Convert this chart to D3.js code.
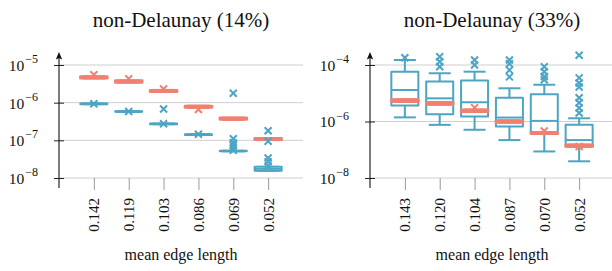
<!DOCTYPE html>
<html>
<head>
<meta charset="utf-8">
<script src="https://cdn.jsdelivr.net/npm/d3@7"></script>
<style>
  html, body { margin: 0; padding: 0; background: #fff; }
  svg text { font-family: "Liberation Serif", "Times New Roman", "DejaVu Serif", serif !important; }
</style>
</head>
<body>
<svg id="chart" width="612" height="271"></svg>
<script>
// categories (mean edge length)
const leftCats = ["0.142", "0.119", "0.103", "0.086", "0.069", "0.052"];
const rightCats = ["0.143", "0.120", "0.104", "0.087", "0.070", "0.052"];

const leftTicks = [1e-8, 1e-7, 1e-6, 1e-5];
const rightTicks = [1e-8, 1e-6, 1e-4];

// left panel, red series
const leftRedLo = [4.45e-6, 3.45e-6, 1.95e-6, 7.4e-7, 3.55e-7, 1.03e-7];
const leftRedQ1 = [4.45e-6, 3.45e-6, 1.95e-6, 7.4e-7, 3.55e-7, 1.03e-7];
const leftRedMed = [4.7e-6, 3.65e-6, 2.05e-6, 7.8e-7, 3.75e-7, 1.08e-7];
const leftRedQ3 = [4.95e-6, 3.85e-6, 2.15e-6, 8.2e-7, 3.95e-7, 1.13e-7];
const leftRedHi = [4.95e-6, 3.85e-6, 2.15e-6, 8.2e-7, 3.95e-7, 1.13e-7];
const leftRedOut = [[5.5e-6], [4.3e-6], [2.3e-6], [6.6e-7], [], []];

// left panel, blue series
const leftBlueLo = [9.1e-7, 5.7e-7, 2.68e-7, 1.39e-7, 5.1e-8, 1.55e-8];
const leftBlueQ1 = [9.1e-7, 5.7e-7, 2.68e-7, 1.39e-7, 5.1e-8, 1.55e-8];
const leftBlueMed = [9.3e-7, 5.8e-7, 2.73e-7, 1.42e-7, 5.2e-8, 1.75e-8];
const leftBlueQ3 = [9.5e-7, 5.9e-7, 2.78e-7, 1.45e-7, 5.3e-8, 1.98e-8];
const leftBlueHi = [9.5e-7, 5.9e-7, 2.78e-7, 1.45e-7, 5.3e-8, 1.98e-8];
const leftBlueOut = [
  [9.4e-7],
  [5.8e-7],
  [6.8e-7, 2.75e-7],
  [1.45e-7],
  [1.78e-6, 1.1e-7, 8.6e-8, 7.3e-8, 6.2e-8, 5.4e-8],
  [1.8e-7, 9.5e-8, 3.4e-8, 2.7e-8, 2.1e-8]
];

// right panel, blue series
const rightBlueLo = [1.4e-6, 7.6e-7, 5.1e-7, 2.2e-7, 8.7e-8, 3.9e-8];
const rightBlueQ1 = [3.7e-6, 1.8e-6, 1.5e-6, 6.6e-7, 4.2e-7, 1.3e-7];
const rightBlueMed = [1.3e-5, 6.6e-6, 4.8e-6, 1.38e-6, 1.05e-6, 2.2e-7];
const rightBlueQ3 = [5.8e-5, 2.6e-5, 2.8e-5, 7.0e-6, 9.3e-6, 7.6e-7];
const rightBlueHi = [1.5e-4, 5.1e-5, 5.8e-5, 1.5e-5, 2.0e-5, 1.3e-6];
const rightBlueOut = [
  [1.8e-4],
  [1.96e-4, 1.3e-4, 8.7e-5],
  [1.5e-4, 1.0e-4],
  [1.5e-4, 1.1e-4, 6.6e-5, 3.8e-5],
  [8.7e-5, 5.8e-5, 3.9e-5, 3.0e-5],
  [2.2e-4, 3.5e-5, 2.3e-5, 1.67e-5, 6.9e-6, 4.6e-6, 3.0e-6, 2.0e-6]
];

// right panel, red series
const rightRedLo = [5.0e-6, 4.0e-6, 2.2e-6, 9.2e-7, 3.7e-7, 1.3e-7];
const rightRedQ1 = [5.0e-6, 4.0e-6, 2.2e-6, 9.2e-7, 3.7e-7, 1.3e-7];
const rightRedMed = [5.5e-6, 4.4e-6, 2.4e-6, 1.0e-6, 3.9e-7, 1.4e-7];
const rightRedQ3 = [6.0e-6, 4.8e-6, 2.6e-6, 1.08e-6, 4.1e-7, 1.5e-7];
const rightRedHi = [6.0e-6, 4.8e-6, 2.6e-6, 1.08e-6, 4.1e-7, 1.5e-7];
const rightRedOut = [[], [], [3.1e-6], [], [4.6e-7], [1.3e-7]];

const BLUE = "#4ca5c4";
const RED = "#f08072";
const TOP = 65;
const BOTTOM = 178;

const svg = d3.select("#chart");

const makeSeries = (lo, q1, med, q3, hi, out) =>
  med.map((m, i) => ({ i, lo: lo[i], q1: q1[i], med: m, q3: q3[i], hi: hi[i], out: out[i] }));

const drawPanel = ({ x0, x1, title, cats, ticks, minV, maxV, series }) => {
  const g = svg.append("g");
  const x = d3.scalePoint().domain(cats).range([x0, x1]).padding(1);
  const y = d3.scaleLog().domain([minV, maxV]).range([BOTTOM, TOP]);

  // gridlines
  g.selectAll(".grid")
    .data(ticks)
    .enter()
    .append("line")
    .attr("x1", x0).attr("x2", x1)
    .attr("y1", (d) => y(d)).attr("y2", (d) => y(d))
    .attr("stroke", "#cfcfcf").attr("stroke-width", 1);

  // x axis ticks + labels
  const xAxis = g.append("g")
    .attr("transform", `translate(0,${BOTTOM})`)
    .call(d3.axisBottom(x).tickSizeInner(12).tickSizeOuter(0).tickPadding(6));
  xAxis.select(".domain").remove();
  xAxis.selectAll(".tick line").attr("stroke", "#9a9a9a").attr("stroke-width", 1);
  xAxis.selectAll(".tick text")
    .attr("font-size", 15)
    .attr("fill", "#111")
    .attr("transform", "rotate(-90)")
    .attr("text-anchor", "end")
    .attr("x", -20)
    .attr("y", 0)
    .attr("dy", "0.33em");

  // y axis
  const yAxis = g.append("g")
    .attr("transform", `translate(${x0},0)`)
    .call(d3.axisLeft(y).tickValues(ticks).tickSizeInner(5).tickSizeOuter(0).tickFormat(() => ""));
  yAxis.select(".domain").remove();
  yAxis.selectAll(".tick line").attr("x1", -5).attr("x2", 5).attr("stroke", "#222").attr("stroke-width", 1);
  yAxis.selectAll(".tick text").remove();
  yAxis.selectAll(".tick")
    .append("text")
    .attr("x", -21)
    .attr("dy", "0.35em")
    .attr("text-anchor", "end")
    .attr("font-size", 15.5)
    .attr("fill", "#111")
    .each(function (d) {
      const t = d3.select(this);
      t.append("tspan").text("10");
      t.append("tspan")
        .attr("font-size", 12)
        .attr("dx", 1)
        .attr("dy", "-0.65em")
        .text("\u2212" + Math.round(-Math.log10(d)));
    });

  // y axis line with arrowhead
  g.append("line")
    .attr("x1", x0).attr("x2", x0)
    .attr("y1", BOTTOM + 10).attr("y2", TOP - 10)
    .attr("stroke", "#111").attr("stroke-width", 1.1);
  g.append("path")
    .attr("d", `M${x0},${TOP - 13}L${x0 + 3.2},${TOP - 5.5}L${x0},${TOP - 7}L${x0 - 3.2},${TOP - 5.5}Z`)
    .attr("fill", "#111");

  // boxes
  series.forEach(({ data, color, fill, stroke }) => {
    const box = g.append("g")
      .selectAll("g")
      .data(data)
      .enter()
      .append("g")
      .attr("transform", (d) => `translate(${x(cats[d.i])},0)`);

    box.append("line")
      .attr("y1", (d) => y(d.lo)).attr("y2", (d) => y(d.q1))
      .attr("stroke", color).attr("stroke-width", stroke);
    box.append("line")
      .attr("y1", (d) => y(d.q3)).attr("y2", (d) => y(d.hi))
      .attr("stroke", color).attr("stroke-width", stroke);
    box.append("line")
      .attr("x1", -11).attr("x2", 11)
      .attr("y1", (d) => y(d.lo)).attr("y2", (d) => y(d.lo))
      .attr("stroke", color).attr("stroke-width", stroke);
    box.append("line")
      .attr("x1", -11).attr("x2", 11)
      .attr("y1", (d) => y(d.hi)).attr("y2", (d) => y(d.hi))
      .attr("stroke", color).attr("stroke-width", stroke);
    box.append("rect")
      .attr("x", -13.5).attr("width", 27)
      .attr("y", (d) => y(d.q3))
      .attr("height", (d) => Math.max(0, y(d.q1) - y(d.q3)))
      .attr("fill", fill)
      .attr("stroke", color).attr("stroke-width", stroke)
      .attr("stroke-linejoin", "round");
    box.append("line")
      .attr("x1", -13.5).attr("x2", 13.5)
      .attr("y1", (d) => y(d.med)).attr("y2", (d) => y(d.med))
      .attr("stroke", color).attr("stroke-width", stroke);

    box.selectAll(".out")
      .data((d) => d.out)
      .enter()
      .append("path")
      .attr("d", (v) => {
        const cy = y(v);
        return `M-3.5,${cy - 3.5}L3.5,${cy + 3.5}M-3.5,${cy + 3.5}L3.5,${cy - 3.5}`;
      })
      .attr("stroke", color).attr("stroke-width", 2).attr("fill", "none");
  });

  svg.append("text")
    .attr("x", (x0 + x1) / 2)
    .attr("y", 26.5)
    .attr("text-anchor", "middle")
    .attr("font-size", 21)
    .attr("fill", "#111")
    .text(title);

  svg.append("text")
    .attr("x", (x0 + x1) / 2)
    .attr("y", 260)
    .attr("text-anchor", "middle")
    .attr("font-size", 16)
    .attr("fill", "#111")
    .text("mean edge length");
};

drawPanel({
  x0: 59, x1: 303,
  title: "non-Delaunay (14%)",
  cats: leftCats, ticks: leftTicks,
  minV: 1e-8, maxV: 1e-5,
  series: [
    { data: makeSeries(leftRedLo, leftRedQ1, leftRedMed, leftRedQ3, leftRedHi, leftRedOut), color: RED, fill: RED, stroke: 2.5 },
    { data: makeSeries(leftBlueLo, leftBlueQ1, leftBlueMed, leftBlueQ3, leftBlueHi, leftBlueOut), color: BLUE, fill: "#fff", stroke: 2 }
  ]
});

drawPanel({
  x0: 370, x1: 614,
  title: "non-Delaunay (33%)",
  cats: rightCats, ticks: rightTicks,
  minV: 1e-8, maxV: 1e-4,
  series: [
    { data: makeSeries(rightBlueLo, rightBlueQ1, rightBlueMed, rightBlueQ3, rightBlueHi, rightBlueOut), color: BLUE, fill: "#fff", stroke: 2 },
    { data: makeSeries(rightRedLo, rightRedQ1, rightRedMed, rightRedQ3, rightRedHi, rightRedOut), color: RED, fill: RED, stroke: 2.5 }
  ]
});
</script>
</body>
</html>
